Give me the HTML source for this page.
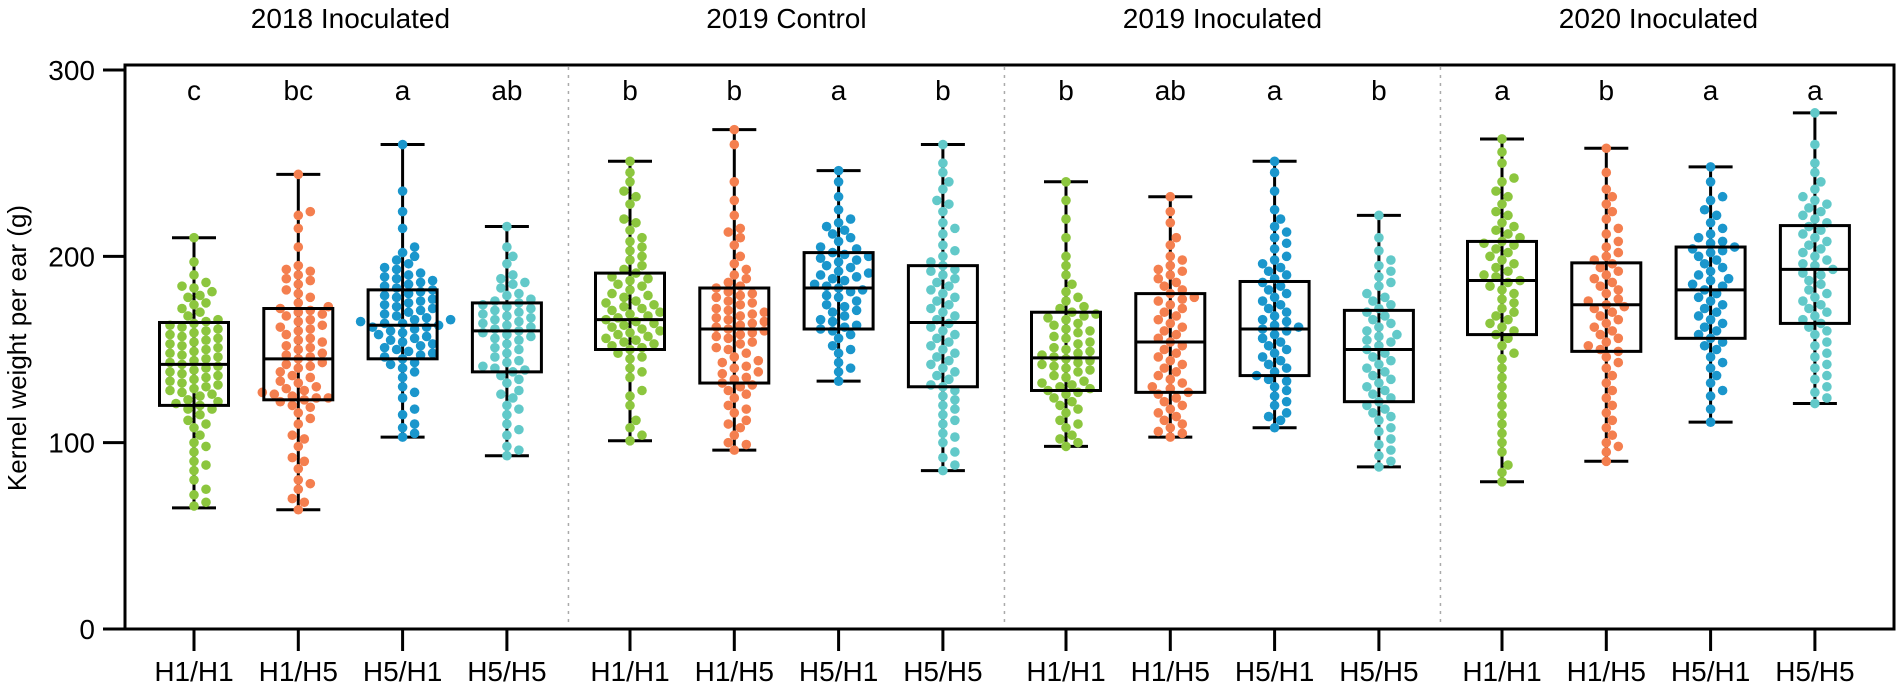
<!DOCTYPE html>
<html><head><meta charset="utf-8">
<style>
html,body{margin:0;padding:0;background:#fff;}
svg{display:block;font-family:"Liberation Sans",Arial,sans-serif;}
</style></head>
<body>
<svg id="chart" width="1902" height="690" viewBox="0 0 1902 690"></svg>
<script>
const groups = ["2018 Inoculated","2019 Control","2019 Inoculated","2020 Inoculated"];
const genotypes = ["H1/H1","H1/H5","H5/H1","H5/H5"];
const letters = ["c","bc","a","ab","b","b","a","b","b","ab","a","b","a","b","a","a"];
const yTicks = [0,100,200,300];
const mins = [65,64,103,93, 101,96,133,85, 98,103,108,87, 79,90,111,121];
const q1s  = [120,123,145,138, 150,132,161,130, 128,127,136,122, 158,149,156,164];
const meds = [142,145,163,160, 166,161,183,164.5, 145.5,154,161,150, 187,174,182,193];
const q3s  = [164.5,172,182,175, 191,183,202,195, 170,180,186.5,171, 208,196.5,205,216.5];
const maxs = [210,244,260,216, 251,268,246,260, 240,232,251,222, 263,258,248,277];
const pointsA = [
[66,68,72,80,85,90,95,100,104,108,112,115,118,120,122,125,128,130,133,135,138,140,141,142,144,147,150,152,155,157,160,162,164,166,170,172,175,178,181,184,186,190,197,210],
[64,70,75,80,86,92,98,104,110,116,120,122,123,124,128,132,136,140,143,145,147,150,154,158,162,165,168,170,172,175,178,182,185,188,190,192,195,205,215,222,224,244],
[103,105,110,118,124,130,135,140,143,145,146,148,150,152,155,157,159,160,162,163,164,165,167,168,170,172,174,176,178,180,182,184,186,188,190,193,196,200,205,215,224,235,260],
[93,98,104,110,115,120,124,128,132,136,138,140,143,146,150,153,156,158,160,161,163,165,167,168,170,172,174,175,177,180,183,186,190,196,205,216],
[101,104,112,120,128,135,140,145,148,150,152,154,156,158,160,162,164,166,168,170,172,175,178,180,184,188,191,195,200,205,210,214,220,228,235,240,245,251],
[96,99,104,108,112,116,120,124,128,130,132,135,138,140,143,146,150,153,156,158,160,161,163,166,168,170,172,175,178,180,183,186,190,196,206,210,215,222,230,240,260,268],
[133,138,143,148,152,156,160,161,163,166,170,173,176,179,182,183,185,188,190,192,195,198,200,202,205,208,212,216,220,225,232,240,246],
[85,88,95,100,105,110,115,120,125,128,130,134,138,142,146,150,154,158,162,164,166,170,174,178,182,186,190,193,195,200,206,212,218,224,230,236,240,250,260],
[98,100,104,108,112,116,120,124,126,128,130,132,135,138,140,142,144,145,146,148,150,153,156,160,163,166,168,170,173,178,185,190,200,210,220,230,240],
[103,105,108,112,116,120,124,127,130,134,138,142,146,150,154,156,160,164,168,172,176,178,180,184,188,192,195,200,210,218,224,232],
[108,112,116,120,125,130,134,136,140,144,148,152,156,160,161,163,166,170,174,178,182,186,190,194,198,204,210,216,225,235,245,251],
[87,90,96,102,108,112,116,120,122,126,130,134,138,142,146,150,152,155,158,162,166,170,172,176,180,186,192,198,210,222],
[79,84,95,105,115,125,135,145,152,158,162,166,170,175,180,184,187,190,194,198,202,206,208,212,216,222,228,235,242,250,256,263],
[90,95,100,108,116,124,132,140,146,149,152,156,160,164,168,172,174,176,180,184,188,192,196,200,205,212,220,228,236,245,258],
[111,118,125,132,140,146,152,156,160,164,168,172,176,180,182,185,188,192,196,200,203,205,208,212,218,225,232,240,248],
[121,124,130,136,142,148,154,160,164,168,172,176,180,185,190,193,196,200,204,208,212,216,220,224,228,232,240,250,260,277]
];
const pointsB = [
[75,88,98,110,118,121,123,126,127,129,131,132,134,136,137,139,143,145,146,148,149,151,153,154,156,158,159,161,163,165,168,174,179,183],
[68,78,90,102,113,119,124,125,126,127,129,130,133,135,138,141,142,146,148,151,152,155,156,160,161,163,166,169,171,173,180,187,193],
[108,115,127,138,142,147,149,151,153,154,156,158,161,162,164,166,166,169,171,173,175,177,179,181,183,185,187,189,191,194,198,202],
[96,107,118,126,134,139,141,144,148,151,155,157,159,162,164,166,169,171,173,176,179,185,188,200],
[108,125,138,146,151,153,155,157,159,161,163,165,167,169,171,173,174,176,179,182,185,187,189,193,198,203,208,218,232],
[100,110,118,126,131,134,137,141,144,148,151,154,157,159,162,164,165,167,169,171,174,176,179,181,184,188,193,200,213],
[140,150,158,162,165,168,171,174,178,181,184,187,189,191,194,197,199,201,204,210,214,218],
[92,103,112,118,123,131,136,140,144,148,152,156,160,168,172,176,180,184,188,192,197,203,215,228,245],
[102,110,118,122,127,129,131,133,136,139,141,143,147,149,151,154,157,159,161,164,167,169,172,176,181,195],
[106,110,114,118,122,126,129,132,136,140,144,148,152,158,162,166,170,174,177,182,186,190,193,198,206],
[114,122,128,133,138,142,146,150,154,158,162,165,168,172,176,180,184,188,192,196,200,207,213,220],
[93,99,106,114,118,124,128,132,136,140,144,148,154,157,160,164,168,174,178,184,189,195,203],
[88,100,110,120,130,140,148,156,160,164,168,172,177,182,186,189,192,196,200,204,207,210,214,218,224,232,240],
[98,104,112,120,128,136,143,150,154,158,162,166,170,173,177,182,186,190,194,198,202,208,215,224,232],
[128,136,143,150,154,158,162,166,170,174,178,184,187,190,194,198,202,204,207,210,215,222,230],
[127,134,140,146,152,158,162,166,170,174,178,182,187,191,195,198,202,206,210,214,218,222,226,230,236,245]
];
const colors = ["#8cc63e","#f47f4f","#1a96cc","#62c9c9"];

const NS = "http://www.w3.org/2000/svg";
const svg = document.getElementById("chart");
const L = 125, R = 1894, T = 65, B = 629;
function y(v){ return B - v * (B - 70) / 300; }
function xc(i){ const g = Math.floor(i/4), k = i%4; return 194 + g*436 + k*104.3; }
function el(tag, attrs, parent){
  const e = document.createElementNS(NS, tag);
  for (const a in attrs) e.setAttribute(a, attrs[a]);
  (parent||svg).appendChild(e); return e;
}

const frame = el("rect",{x:L,y:T,width:R-L,height:B-T,fill:"none",stroke:"#000","stroke-width":3});



for (let g=1; g<4; g++){
  const xd = (xc(g*4-1)+xc(g*4))/2;
  const d = el("line",{x1:xd,x2:xd,y1:T+2,y2:B-2,stroke:"#aaa","stroke-width":1.5,"stroke-dasharray":"3,5"});
  
  
}

yTicks.forEach(v=>{
  const t = el("line",{x1:L-22,x2:L,y1:y(v),y2:y(v),stroke:"#000","stroke-width":3});
  
  
  const tx = el("text",{x:L-30,y:y(v)+10,"text-anchor":"end","font-size":28,fill:"#000"});
  tx.textContent = v;
  
  
});
const yt = el("text",{x:0,y:0,transform:"translate(26,348) rotate(-90)","text-anchor":"middle","font-size":26,fill:"#000"});
yt.textContent = "Kernel weight per ear (g)";



groups.forEach((gname,g)=>{
  const cx = (xc(g*4)+xc(g*4+3))/2;
  const t = el("text",{x:cx,y:28,"text-anchor":"middle","font-size":28,fill:"#000"});
  t.textContent = gname;
  
  
});

const r = 4.8, bw = 69, cw = 44;
for (let i=0;i<16;i++){
  const cx = xc(i), col = colors[i%4];
  const xt = el("line",{x1:cx,x2:cx,y1:B,y2:B+22,stroke:"#000","stroke-width":3});
  
  
  const xl = el("text",{x:cx,y:681,"text-anchor":"middle","font-size":28,fill:"#000"});
  xl.textContent = genotypes[i%4];
  
  
  const lt = el("text",{x:cx,y:100,"text-anchor":"middle","font-size":28,fill:"#000"});
  lt.textContent = letters[i];
  
  

  const wg = el("g",{stroke:"#000","stroke-width":3});
  
  
  el("line",{x1:cx,x2:cx,y1:y(maxs[i]),y2:y(mins[i])},wg);
  el("line",{x1:cx-cw/2,x2:cx+cw/2,y1:y(maxs[i]),y2:y(maxs[i])},wg);
  el("line",{x1:cx-cw/2,x2:cx+cw/2,y1:y(mins[i]),y2:y(mins[i])},wg);

  const vals = pointsA[i].concat(pointsB[i]).sort((a,b)=>a-b);
  const placed = [];
  const dg = el("g",{fill:col});
  
  
  vals.forEach(v=>{
    const py = y(v);
    let px = cx;
    for (let k=0;k<40;k++){
      const off = (k===0)?0:Math.ceil(k/2)*(r*1.25)*(k%2?1:-1);
      const tx = cx+off;
      if (placed.every(p=>(p[0]-tx)**2+(p[1]-py)**2 >= (2*r*0.92)**2)){ px = tx; break; }
    }
    placed.push([px,py]);
    const c = el("circle",{cx:px,cy:py,r:r},dg);
    
    
  });

  const bx = el("rect",{x:cx-bw/2,y:y(q3s[i]),width:bw,height:y(q1s[i])-y(q3s[i]),fill:"none",stroke:"#000","stroke-width":3});
  
  
  const md = el("line",{x1:cx-bw/2,x2:cx+bw/2,y1:y(meds[i]),y2:y(meds[i]),stroke:"#000","stroke-width":3});
  
  
}
</script>
</body></html>
